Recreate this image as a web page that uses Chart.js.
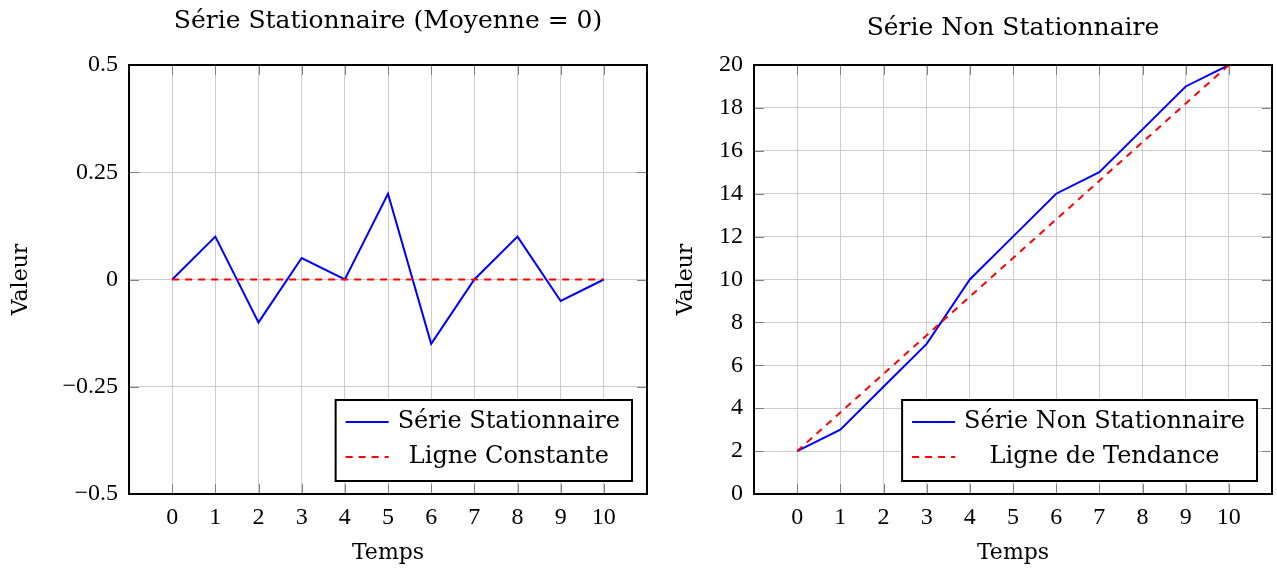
<!DOCTYPE html>
<html>
<head>
<meta charset="utf-8">
<script src="https://cdn.jsdelivr.net/npm/chart.js@4/dist/chart.umd.min.js"></script>
<style>
body { margin: 0; background: #fff; }
#wrap { position: relative; width: 1277px; height: 570px; }
canvas { position: absolute; top: 0; }
</style>
</head>
<body>
<div id="wrap">
  <canvas id="grafico1" width="660" height="570" style="left:0"></canvas>
  <canvas id="grafico2" width="617" height="570" style="left:660px"></canvas>
</div>
<script>
// donnees
var temps = [0, 1, 2, 3, 4, 5, 6, 7, 8, 9, 10];
var serieStat = [0, 0.1, -0.1, 0.05, 0, 0.2, -0.15, 0, 0.1, -0.05, 0];
var constX = [0, 10];
var constY = [0, 0];
var serieNonStat = [2, 3, 5, 7, 10, 12, 14, 15, 17, 19, 20];
var tendX = [0, 10];
var tendY = [2, 20];
var ticksStat = [-0.5, -0.25, 0, 0.25, 0.5];
var ticksNonStat = [0, 2, 4, 6, 8, 10, 12, 14, 16, 18, 20];

var policeTexte = 'DejaVu Serif';
var policeNum = 'Liberation Serif';

function points(xs, ys) {
    return xs.map(function (x, i) { return { x: x, y: ys[i] }; });
}

function fmt(v) {
    return v < 0 ? '\u2212' + Math.abs(v) : String(v);
}

// cadre, petites graduations et legende dans la zone du graphique
var cadre = {
    id: 'cadre',
    beforeDatasetsDraw: function (chart) {
        var a = chart.chartArea, ctx = chart.ctx;
        var sx = chart.scales.x, sy = chart.scales.y;
        ctx.save();
        ctx.strokeStyle = '#808080';
        ctx.lineWidth = 1;
        ctx.beginPath();
        sx.ticks.forEach(function (t) {
            var p = Math.round(sx.getPixelForValue(t.value)) + 0.5;
            ctx.moveTo(p, a.bottom); ctx.lineTo(p, a.bottom - 10);
            ctx.moveTo(p, a.top); ctx.lineTo(p, a.top + 10);
        });
        sy.ticks.forEach(function (t) {
            var p = Math.round(sy.getPixelForValue(t.value)) + 0.5;
            ctx.moveTo(a.left, p); ctx.lineTo(a.left + 10, p);
            ctx.moveTo(a.right, p); ctx.lineTo(a.right - 10, p);
        });
        ctx.stroke();
        ctx.restore();
    },
    afterDatasetsDraw: function (chart) {
        var a = chart.chartArea, ctx = chart.ctx;
        ctx.save();
        ctx.strokeStyle = '#000';
        ctx.lineWidth = 2;
        ctx.strokeRect(a.left, a.top, a.right - a.left, a.bottom - a.top);

        // legende
        var ds = chart.data.datasets;
        ctx.font = '24px "' + policeTexte + '"';
        var largeur = 0;
        ds.forEach(function (d) { largeur = Math.max(largeur, ctx.measureText(d.label).width); });
        var w = 10 + 43 + 9 + largeur + 12;
        var h = 81;
        var x0 = a.right - 15 - w;
        var y0 = a.bottom - 13 - h;
        ctx.fillStyle = '#fff';
        ctx.fillRect(x0, y0, w, h);
        ctx.strokeStyle = '#000';
        ctx.lineWidth = 2;
        ctx.strokeRect(x0, y0, w, h);
        ds.forEach(function (d, i) {
            var yc = y0 + 22 + i * 35;
            ctx.strokeStyle = d.borderColor;
            ctx.lineWidth = 2;
            ctx.setLineDash(d.borderDash || []);
            ctx.beginPath();
            ctx.moveTo(x0 + 10, yc);
            ctx.lineTo(x0 + 53, yc);
            ctx.stroke();
            ctx.setLineDash([]);
            ctx.fillStyle = '#000';
            ctx.textAlign = 'center';
            ctx.textBaseline = 'middle';
            ctx.fillText(d.label, x0 + 62 + largeur / 2, yc);
        });
        ctx.restore();
    }
};

function creerGraphique(id, cfg) {
    var ctx = document.getElementById(id).getContext('2d');
    return new Chart(ctx, {
        type: 'line',
        data: { datasets: cfg.datasets },
        plugins: [cadre],
        options: {
            responsive: false,
            animation: false,
            layout: { padding: { left: 0, right: cfg.droite, top: 0, bottom: 0 } },
            elements: { point: { radius: 0 }, line: { tension: 0, borderWidth: 2 } },
            plugins: {
                legend: { display: false },
                tooltip: { enabled: false },
                title: {
                    display: true,
                    text: cfg.titre,
                    fullSize: false,
                    color: '#000',
                    font: { family: policeTexte, size: 25, weight: 'normal' },
                    padding: { top: cfg.titreHaut, bottom: 65 - cfg.titreHaut - 30 }
                }
            },
            scales: {
                x: {
                    type: 'linear',
                    min: -1,
                    max: 11,
                    afterBuildTicks: function (s) {
                        s.ticks = temps.map(function (v) { return { value: v }; });
                    },
                    afterFit: function (s) { s.height = 76; },
                    grid: { color: '#cccccc', lineWidth: 1, drawTicks: false },
                    border: { display: false },
                    ticks: {
                        color: '#000',
                        padding: 9,
                        maxRotation: 0,
                        autoSkip: false,
                        font: { family: policeNum, size: 24 },
                        callback: function (v) { return String(v); }
                    },
                    title: {
                        display: true,
                        text: 'Temps',
                        color: '#000',
                        font: { family: policeTexte, size: 22 },
                        padding: { top: 0, bottom: 4 }
                    }
                },
                y: {
                    min: cfg.ticksY[0],
                    max: cfg.ticksY[cfg.ticksY.length - 1],
                    afterBuildTicks: function (s) {
                        s.ticks = cfg.ticksY.map(function (v) { return { value: v }; });
                    },
                    afterFit: function (s) { s.width = cfg.largeurY; },
                    grid: { color: '#cccccc', lineWidth: 1, drawTicks: false },
                    border: { display: false },
                    ticks: {
                        color: '#000',
                        padding: 11,
                        autoSkip: false,
                        font: { family: policeNum, size: 24 },
                        callback: function (v) { return fmt(v); }
                    },
                    title: {
                        display: true,
                        text: 'Valeur',
                        color: '#000',
                        font: { family: policeTexte, size: 22 },
                        padding: { top: cfg.valeurPad, bottom: 0 }
                    }
                }
            }
        }
    });
}

creerGraphique('grafico1', {
    titre: 'Série Stationnaire (Moyenne = 0)',
    titreHaut: 6,
    droite: 13,
    largeurY: 129,
    valeurPad: 8,
    ticksY: ticksStat,
    datasets: [{
        label: 'Série Stationnaire',
        data: points(temps, serieStat),
        borderColor: '#0000ff',
        order: 2
    }, {
        label: 'Ligne Constante',
        data: points(constX, constY),
        borderColor: '#ff0000',
        borderDash: [7, 6],
        order: 1
    }]
});

creerGraphique('grafico2', {
    titre: 'Série Non Stationnaire',
    titreHaut: 13,
    droite: 5,
    largeurY: 94,
    valeurPad: 13,
    ticksY: ticksNonStat,
    datasets: [{
        label: 'Série Non Stationnaire',
        data: points(temps, serieNonStat),
        borderColor: '#0000ff',
        order: 2
    }, {
        label: 'Ligne de Tendance',
        data: points(tendX, tendY),
        borderColor: '#ff0000',
        borderDash: [7, 6],
        order: 1
    }]
});
</script>
</body>
</html>
